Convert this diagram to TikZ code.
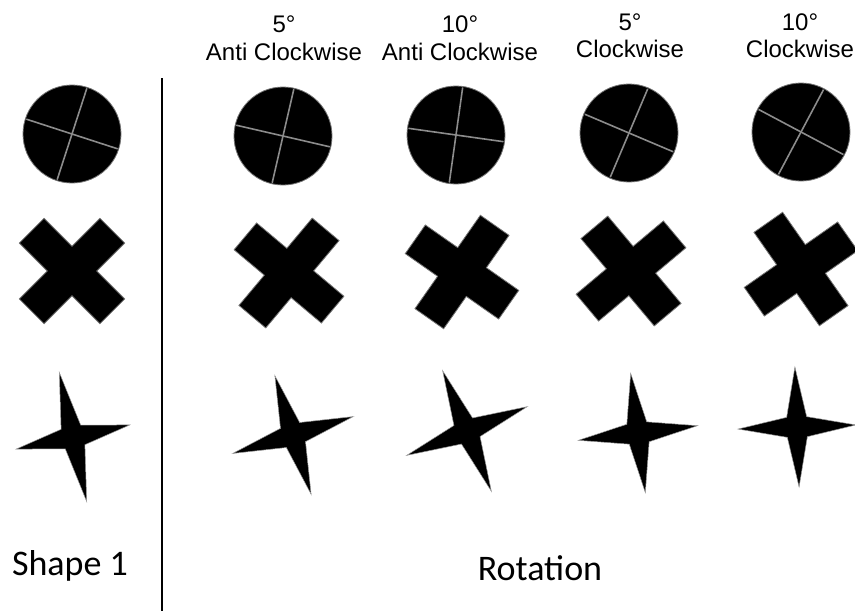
\documentclass[tikz,border=0pt]{standalone}
\usepackage{fontspec}
\setmainfont{Liberation Sans}
\newfontfamily\calibrifont{Carlito}

\tikzset{
  solidshape/.style={fill=black, draw=black!55, line width=0.8pt, line join=miter},
  discline/.style={draw=black!45, line width=1.6pt},
  headtext/.style={font=\fontsize{24}{28}\selectfont, anchor=base, inner sep=0pt},
  bigtext/.style={font=\calibrifont\fontsize{36}{40}\selectfont, anchor=base, inner sep=0pt}
}

\begin{document}
\begin{tikzpicture}[x=1pt, y=-1pt]
\useasboundingbox (0,0) rectangle (855,611);

 % headers
 \foreach \n/\cx/\ya/\yb/\deg/\dir in {1/284/32/60/5/Anti Clockwise, 2/460/32/60/10/Anti Clockwise, 3/630/30/57/5/Clockwise, 4/800/30/57/10/Clockwise} {
        \node[headtext] (deg\n) at (\cx,\ya) {\deg°};
        \node[headtext] (dir\n) at (\cx,\yb) {\dir};
 }

 % separator
 \draw[line width=2.5pt] (162,78) -- (162,611);

 % discs
 \foreach \cx/\cy/\ang in {72/134/-18, 283/136/-13, 456/135/-8, 629/133/-23, 801/132/-28} {
        \fill[solidshape] (\cx,\cy) circle[radius=49pt];
        \begin{scope}[shift={(\cx,\cy)}, rotate=\ang]
          \draw[discline] (-48,0) -- (48,0);
          \draw[discline] (0,-48) -- (0,48);
        \end{scope}
 }

 % crosses
 \foreach \cx/\cy/\ang in {72/271/45, 289/273/50, 462/272/55, 631/271/40, 801/269/35} {
        \begin{scope}[shift={(\cx,\cy)}, rotate=\ang]
          \filldraw[solidshape] (57,17.5) -- (17.5,17.5) -- (17.5,57) -- (-17.5,57) -- (-17.5,17.5) -- (-57,17.5)
            -- (-57,-17.5) -- (-17.5,-17.5) -- (-17.5,-57) -- (17.5,-57) -- (17.5,-17.5) -- (57,-17.5) -- cycle;
        \end{scope}
 }

 % stars
 \foreach \cx/\cy/\ang/\rv/\rh in {73/437/12/66/58, 293/435/17/62/63, 467/431/22/65/65, 638/433/7/60/60, 797/427/2/60/59} {
        \begin{scope}[shift={(\cx,\cy)}, rotate=\ang]
          \filldraw[solidshape, draw=black!40, line width=0.5pt] (0,-\rv) -- (10,-10) -- (\rh,0) -- (10,10) -- (0,\rv)
            -- (-10,10) -- (-\rh,0) -- (-10,-10) -- cycle;
        \end{scope}
 }

 % labels
 \node[bigtext] (shapelabel) at (70,575) {Shape 1};
 \node[bigtext] (rotlabel) at (540,580) {Rotation};

\end{tikzpicture}
\end{document}
